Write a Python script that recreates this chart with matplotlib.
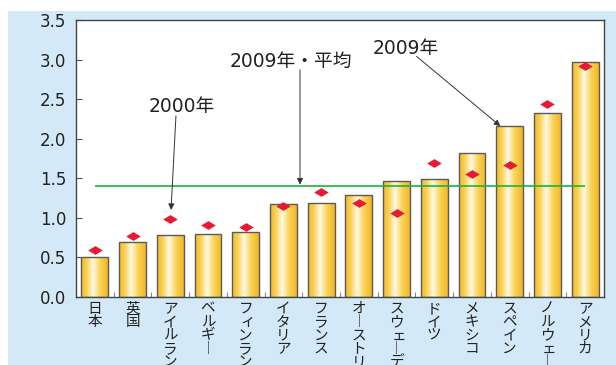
import numpy as np
import matplotlib
matplotlib.use("Agg")
import matplotlib.pyplot as plt
from matplotlib.colors import LinearSegmentedColormap
from matplotlib.patches import Rectangle
from matplotlib.path import Path

# Countries (sorted by 2009 value)
countries = ["日本", "英国", "アイルランド", "ベルギー", "フィンランド", "イタリア", "フランス",
             "オーストリア", "スウェーデン", "ドイツ", "メキシコ", "スペイン", "ノルウェー", "アメリカ"]
values_2009 = [0.50, 0.70, 0.78, 0.79, 0.82, 1.17, 1.19, 1.29, 1.46, 1.49, 1.82, 2.16, 2.33, 2.97]
values_2000 = [0.60, 0.77, 0.98, 0.91, 0.88, 1.15, 1.33, 1.19, 1.06, 1.69, 1.56, 1.67, 2.44, 2.92]
average_2009 = 1.40
y_ticks = [0.0, 0.5, 1.0, 1.5, 2.0, 2.5, 3.0, 3.5]

W, H, DPI = 616, 365, 100
fig = plt.figure(figsize=(W / DPI, H / DPI), dpi=DPI, facecolor="white")

# light blue panel behind the chart
fig.patches.append(Rectangle((8 / W, 0), 1 - 8 / W, 1 - 11 / H, transform=fig.transFigure,
                             facecolor="#D3E9F8", edgecolor="none", zorder=-10))

ax = fig.add_axes([76 / W, 1 - 297 / H, (604 - 76) / W, (297 - 20) / H])
ax.set_facecolor("white")

n = len(countries)
x = np.arange(n)
bar_w = 0.71

# golden bars with a vertical highlight
gold = LinearSegmentedColormap.from_list(
    "gold", [(0.0, "#F4B928"), (0.2, "#F9CF4E"), (0.45, "#FFF9E4"),
             (0.7, "#FAD45A"), (1.0, "#F3B623")])
grad = np.linspace(0, 1, 256).reshape(1, -1)
bars = ax.bar(x, values_2009, width=bar_w, color="none", edgecolor="#5A5A5A",
              linewidth=1.0, zorder=3)
for b in bars:
    x0, y0 = b.get_x(), b.get_y()
    im = ax.imshow(grad, cmap=gold, aspect="auto", interpolation="bilinear",
                   extent=(x0, x0 + b.get_width(), y0, y0 + b.get_height()), zorder=2)
    im.set_clip_path(b)

# 2009 average line
ax.hlines(average_2009, x[0], x[-1], color="#1FB23C", linewidth=1.2, zorder=4)

# 2000 values as wide red diamonds
diamond = Path([(-1, 0), (0, 0.6), (1, 0), (0, -0.6), (-1, 0)],
               [Path.MOVETO, Path.LINETO, Path.LINETO, Path.LINETO, Path.CLOSEPOLY])
ax.plot(x, values_2000, linestyle="none", marker=diamond, markersize=10.5,
        markerfacecolor="#E81932", markeredgecolor="none", zorder=5)

ax.set_xlim(-0.5, n - 0.5)
ax.set_ylim(0, 3.5)
ax.set_yticks(y_ticks)
ax.set_yticklabels([f"{v:.1f}" for v in y_ticks], fontsize=12, family="DejaVu Sans",
                   color="#222222")
ax.tick_params(axis="y", direction="in", length=4.5, width=0.8, color="#555555", pad=7)
ax.set_xticks(x[:-1] + 0.5)
ax.set_xticklabels([])
ax.tick_params(axis="x", direction="in", length=3.5, width=0.8, color="#888888")
for s in ax.spines.values():
    s.set_color("#444444")
    s.set_linewidth(1.0)

# vertical (tategaki) category labels, one character per line;
# the long-vowel mark uses its vertical presentation form
pitch = 9.6
small_kana = set("ァィゥェォッャュョ")
vertical_forms = {"ー": "︱"}
for i, name in enumerate(countries):
    for j, ch in enumerate(name):
        glyph = vertical_forms.get(ch, ch)
        dx = 1.5 if ch in small_kana else 0
        ax.annotate(glyph, xy=(i, 0), xycoords=("data", "axes fraction"),
                    xytext=(dx, -3.5 - j * pitch), textcoords="offset points",
                    ha="center", va="top", fontsize=10.5,
                    family="Noto Sans CJK JP", color="#222222",
                    annotation_clip=False)

# callouts
font_ann = ["DejaVu Sans", "Noto Sans CJK JP"]
arrow = dict(arrowstyle="-|>", color="#333333", lw=0.7, mutation_scale=9,
             shrinkA=0, shrinkB=0)
ax.annotate("", xy=(2.02, 1.10), xytext=(2.15, 2.29), arrowprops=arrow, zorder=6)
ax.text(2.3, 2.41, "2000年", ha="center", va="center", fontsize=13.5, family=font_ann,
        color="#222222")
ax.annotate("", xy=(5.44, 1.42), xytext=(5.44, 2.87), arrowprops=arrow, zorder=6)
ax.text(5.2, 2.98, "2009年・平均", ha="center", va="center", fontsize=13.5,
        family=font_ann, color="#222222")
ax.annotate("", xy=(10.75, 2.16), xytext=(8.53, 3.04), arrowprops=arrow, zorder=6)
ax.text(8.25, 3.14, "2009年", ha="center", va="center", fontsize=13.5, family=font_ann,
        color="#222222")

fig.savefig("out.png", dpi=DPI, facecolor=fig.get_facecolor())
